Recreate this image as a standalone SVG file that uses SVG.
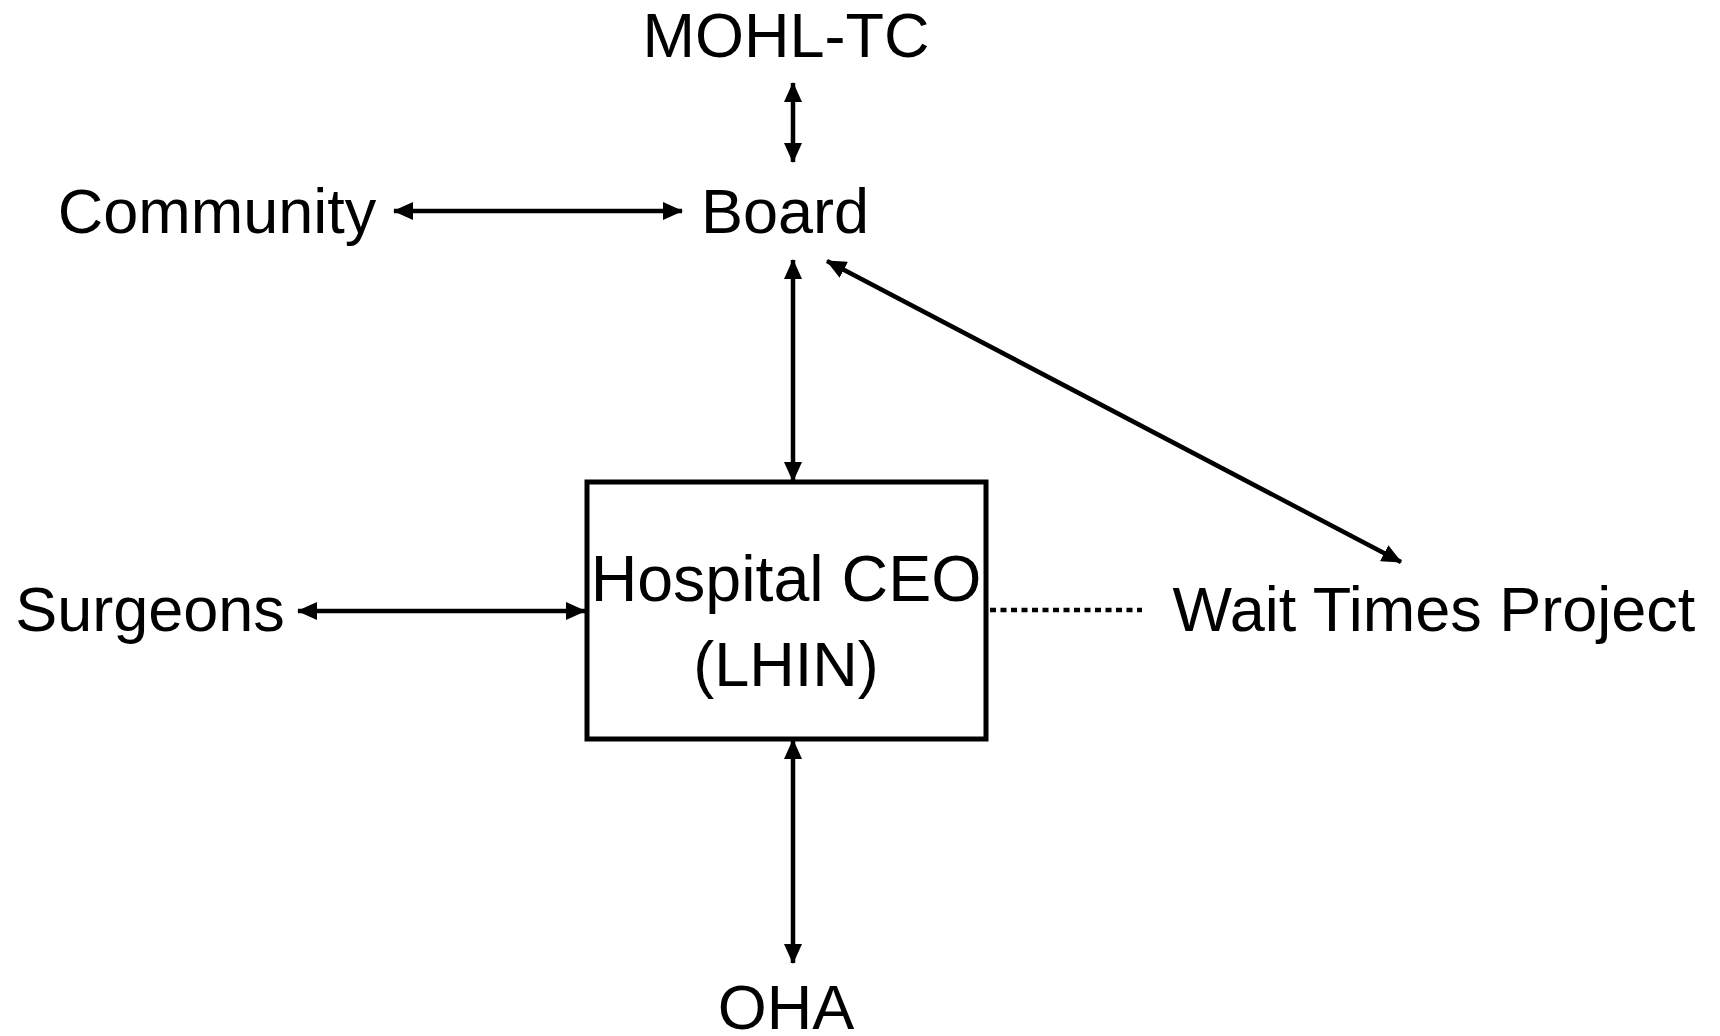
<svg xmlns="http://www.w3.org/2000/svg" width="1720" height="1036" viewBox="0 0 1720 1036">
<style>
.t{font-family:"Liberation Sans",Arial,sans-serif;font-size:63px;fill:#000;text-anchor:middle}
.c{stroke:#000;stroke-width:4.5;fill:none}
</style>
<defs>
<marker id="ah" markerUnits="userSpaceOnUse" markerWidth="20" markerHeight="18" refX="19" refY="9" orient="auto-start-reverse" viewBox="0 0 20 18">
<path d="M0,0 L20,9 L0,18 Z" fill="#000"/>
</marker>
</defs>
<rect width="1720" height="1036" fill="#fff"/>
<g id="connectors">
<line class="c" x1="793" y1="83" x2="793" y2="162" marker-start="url(#ah)" marker-end="url(#ah)"/>
<line class="c" x1="394" y1="211" x2="682" y2="211" marker-start="url(#ah)" marker-end="url(#ah)"/>
<line class="c" x1="793" y1="260" x2="793" y2="481" marker-start="url(#ah)" marker-end="url(#ah)"/>
<line class="c" x1="827" y1="261" x2="1401" y2="562" marker-start="url(#ah)" marker-end="url(#ah)"/>
<line class="c" x1="298" y1="611" x2="585" y2="611" marker-start="url(#ah)" marker-end="url(#ah)"/>
<line class="c" x1="793" y1="740" x2="793" y2="963" marker-start="url(#ah)" marker-end="url(#ah)"/>
<line class="c" x1="990" y1="610" x2="1142" y2="610" stroke-dasharray="6 4.5"/>
</g>
<g id="mohl"><text class="t" x="786" y="57">MOHL-TC</text></g>
<g id="board"><text class="t" x="785" y="233">Board</text></g>
<g id="community"><text class="t" x="217" y="233">Community</text></g>
<g id="ceo">
<rect x="587" y="482" width="399" height="257" fill="#fff" stroke="#000" stroke-width="5"/>
<text class="t" x="786" y="601" style="font-size:64.5px">Hospital CEO</text>
<text class="t" x="786" y="686">(LHIN)</text>
</g>
<g id="surgeons"><text class="t" x="150" y="631">Surgeons</text></g>
<g id="wait"><text class="t" x="1434" y="631">Wait Times Project</text></g>
<g id="oha"><text class="t" x="786" y="1029">OHA</text></g>
</svg>
